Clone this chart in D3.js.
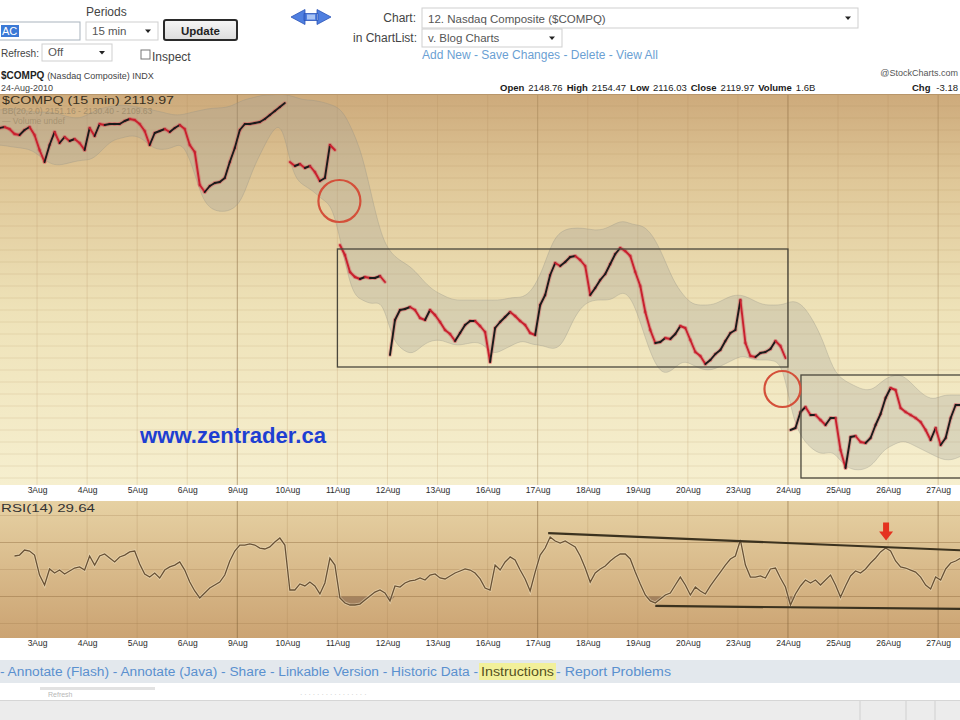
<!DOCTYPE html>
<html><head><meta charset="utf-8">
<script src="https://cdn.jsdelivr.net/npm/d3@7"></script>
<style>html,body{margin:0;padding:0;background:#fff;overflow:hidden}svg{display:block;font-family:"Liberation Sans",Arial,sans-serif}</style>
</head><body><svg id="c" width="960" height="720"></svg>
<script>
// ---------------- DATA ----------------
const dayLabels = ["3Aug","4Aug","5Aug","6Aug","9Aug","10Aug","11Aug","12Aug","13Aug","16Aug","17Aug","18Aug","19Aug","20Aug","23Aug","24Aug","25Aug","26Aug","27Aug"];
const strongDays = ["9Aug","17Aug","24Aug","27Aug"];
// 15-min closes sampled 10 per session, starting 2Aug
const closes = [
2288,2286,2287,2287.5,2286.5,2284,2283.5,2286,2287.5,2283.5,
2276,2270,2278.5,2285,2279.5,2282.5,2280.5,2281.5,2279.5,2276,
2287,2283,2289,2288.5,2289,2289,2289,2290.5,2291.5,2291,
2289,2285.5,2278.5,2284.5,2285.5,2286.5,2285,2287,2288.5,2286.5,
2278.5,2275,2258.5,2255,2258,2259.5,2260,2262,2270,2277,
2286,2289,2289,2289.5,2290,2291.5,2293.5,2295.5,2297.5,2299.5,
2270,2268,2269,2267,2268,2265,2260.5,2262,2278.5,2276,
2228.5,2223.5,2215,2212.5,2211.5,2212.5,2212,2212,2213,2210,
2173.5,2191,2196,2196.5,2197.5,2196,2192,2191,2196,2193.5,
2190,2186,2184,2180.5,2184.5,2188.5,2190.5,2190.5,2188,2185,
2170,2187,2190,2192.5,2195,2193,2190.5,2188.5,2184.5,2183.5,
2198.5,2203.5,2213.5,2219.5,2218,2220,2222.5,2223,2221,2218,
2203.5,2207,2211,2214,2219,2224,2227,2225.5,2223,2215,
2208,2195,2186,2179.5,2180,2182,2181.5,2184,2188,2187,
2181,2175,2173,2169,2171,2174,2176,2180.5,2184.5,2186,
2201,2179.5,2173,2172.5,2174.5,2175,2176.5,2180.5,2178,2172,
2136,2137,2145,2147.5,2143.5,2143.5,2141,2138.5,2142,2142,
2126,2117,2132.5,2133,2130,2129.5,2132,2138.5,2144,2152,
2157,2156,2147,2145,2143.5,2142,2140,2136,2131,2137,
2128.5,2132,2142,2148.5,2148.5];
// Bollinger band edges, one value every 2 bars
const bbUpper = [
2296,2296,2297,2296,2295,2295,2295,2293.5,2292,2292,
2295,2297,2298,2298.5,2298,2297,2296,2295,2293.5,2293.5,
2295,2296,2297,2297,2298,2301,2302,2303.5,2303.5,2304,
2303,2301,2301,2300,2298.5,2296,2286,2273.5,2251,2231,
2223.5,2220,2217,2211,2206,2203.5,2201,2201,2201,2201,
2201,2201,2202.5,2202,2206,2216,2231,2236,2237,2237,
2236,2236,2238.5,2241,2238.5,2238.5,2233.5,2223.5,2211,2203.5,
2198.5,2198.5,2198.5,2201,2203.5,2203.5,2201,2198.5,2198.5,2198.5,
2201,2198.5,2191,2181,2166,2161,2158.5,2156,2156,2161,
2163.5,2163.5,2158.5,2153.5,2151,2153.5,2153.5,2153.5];
const bbLower = [
2278.5,2278.5,2277.5,2277,2276,2272,2268.5,2268.5,2270,2271,
2271,2276,2281,2282,2283.5,2282,2277,2276,2277,2280,
2268.5,2251,2246,2245,2246,2251,2266,2276,2286,2290,
2263.5,2258.5,2256,2251,2248.5,2226,2203.5,2201,2198.5,2201,
2181,2176,2173.5,2178.5,2181,2181,2178.5,2178.5,2180,2179.5,
2173.5,2176,2178.5,2181,2178.5,2178.5,2176,2178.5,2191,2198.5,
2201,2201,2201,2206,2201,2186,2171,2163.5,2166,2171,
2168.5,2166,2166,2168.5,2171,2173.5,2171,2171,2171,2168.5,
2141,2131,2126,2123.5,2126,2118.5,2116,2116,2118.5,2126,
2128.5,2131,2128.5,2126,2123.5,2121,2121,2123.5];
// RSI(14), starting at bar 5
const rsiStart = 5;
const rsiValues = [
60.0,60.7,64.4,63.7,60.7,45.9,38.5,50.4,47.4,49.6,
46.7,48.9,51.1,51.9,49.6,60.0,53.3,60.0,61.5,58.5,
55.6,59.3,60.7,63.0,63.7,54.1,46.7,44.4,47.4,43.7,
49.6,51.9,53.3,55.6,49.6,40.7,34.1,28.9,32.6,36.3,
38.5,40.7,45.9,56.3,63.7,68.1,68.1,68.9,68.1,65.9,
65.2,66.7,70.4,73.3,68.1,34.8,34.8,39.3,37.8,40.7,
37.8,31.9,40.0,58.5,53.3,28.9,25.2,23.7,23.7,24.4,
27.4,30.4,33.3,34.8,32.6,26.7,37.8,37.0,40.0,41.5,
42.2,43.7,42.2,45.9,46.7,43.7,43.0,45.2,47.4,48.9,
50.4,49.6,47.4,43.0,36.3,34.8,53.3,49.6,55.6,59.3,
57.0,49.6,43.0,34.1,48.1,60.7,65.9,74.1,71.1,69.6,
71.1,68.9,66.7,60.0,51.1,40.7,47.4,50.4,52.6,56.3,
59.3,61.5,61.5,57.8,48.1,39.3,31.1,26.7,25.2,28.1,
31.1,32.6,38.5,44.4,38.5,31.1,37.0,34.1,31.9,37.8,
43.0,48.1,53.3,57.8,60.0,71.9,53.3,44.4,44.4,45.2,
43.7,50.4,51.1,43.7,37.0,23.7,31.9,37.8,42.2,40.0,
42.2,38.5,42.2,45.9,38.5,29.6,37.8,45.2,48.9,47.4,
50.4,54.8,58.5,63.0,65.9,63.7,56.3,51.9,51.1,49.6,
48.1,44.4,38.5,35.6,44.4,42.2,50.4,54.8,56.3,58.5];
// chart annotations in data units
const boxes = [{b0:70, b1:160, hi:2226.5, lo:2167.5},{b0:162.6, b1:205, hi:2163.5, lo:2112}];
const circles = [{bar:70.4, price:2250.5},{bar:158.9, price:2156.5}];
const rsiTrendLines = [{b0:112.1, v0:77.0, b1:196, v1:64.0},{b0:133.5, v0:23.0, b1:196, v1:20.7}];
const rsiArrow = {bar:179.6, rsi:71.5};
const quote = [["Open",true],["2148.76",false],["High",true],["2154.47",false],["Low",true],["2116.03",false],["Close",true],["2119.97",false],["Volume",true],["1.6B",false]];
const links1 = "- Annotate (Flash) - Annotate (Java) - Share - Linkable Version - Historic Data - ";
const links2 = "Instructions";
const links3 = " - Report Problems";

// ---------------- DRAW ----------------
const svg = d3.select("#c");
const defs = svg.append("defs");
function lg(id, stops){const g=defs.append("linearGradient").attr("id",id).attr("x1",0).attr("y1",0).attr("x2",0).attr("y2",1);stops.forEach(([o,c])=>g.append("stop").attr("offset",o).attr("stop-color",c));}
lg("pg",[[0,"#cdaa7b"],[0.22,"#dfc798"],[0.55,"#eee2b8"],[1,"#f6efcf"]]);
lg("rg",[[0,"#e6d1a3"],[1,"#cba372"]]);
lg("btn",[[0,"#f6f6f6"],[1,"#dcdcdc"]]);

const P = {top:94, bottom:485}, R = {top:501, bottom:638};
const x = d3.scaleLinear().domain([0,200]).range([-13, -13 + 50.06*20]);
const yP = d3.scaleLinear().domain([2110,2300]).range([482,102]);
const yR = d3.scaleLinear().domain([0,100]).range([637,502]);

defs.append("clipPath").attr("id","cp").append("rect").attr("x",0).attr("y",P.top).attr("width",960).attr("height",P.bottom-P.top);
defs.append("clipPath").attr("id","cr").append("rect").attr("x",0).attr("y",R.top).attr("width",960).attr("height",R.bottom-R.top);

function txt(g,xx,yy,s,o={}){const t=g.append("text").attr("x",xx).attr("y",yy).text(s).attr("font-size",o.size||11).attr("fill",o.fill||"#222");
 if(o.bold)t.attr("font-weight","bold"); if(o.anchor)t.attr("text-anchor",o.anchor);
 if(o.len)t.attr("textLength",o.len).attr("lengthAdjust","spacingAndGlyphs"); if(o.op!=null)t.attr("opacity",o.op); return t;}

// ----- top form -----
const topG = svg.append("g");
function selectBox(x0,y0,w,h,label){
 topG.append("rect").attr("x",x0).attr("y",y0).attr("width",w).attr("height",h).attr("fill","#fff").attr("stroke","#cfcfcf");
 txt(topG,x0+6,y0+h-5,label,{size:11.5,fill:"#555"});
 const ax=x0+w-10, ay=y0+h/2;
 topG.append("path").attr("d",`M${ax-3},${ay-1.5}L${ax+3},${ay-1.5}L${ax},${ay+2}Z`).attr("fill","#222");
}
topG.append("rect").attr("x",-2).attr("y",22).attr("width",82).attr("height",18).attr("fill","#fff").attr("stroke","#a9b3bd");
topG.append("rect").attr("x",1).attr("y",25).attr("width",18).attr("height",12).attr("fill","#3b79d6");
txt(topG,2,35,"AC",{size:11,fill:"#fff"});
txt(topG,86,16,"Periods",{size:12,fill:"#444"});
selectBox(86,22,72,18,"15 min");
topG.append("rect").attr("x",164).attr("y",20).attr("width",73).attr("height",20).attr("rx",2).attr("fill","url(#btn)").attr("stroke","#2a2a2a").attr("stroke-width",2);
txt(topG,200.5,34.5,"Update",{size:11.5,bold:true,anchor:"middle",fill:"#222"});
txt(topG,1,57,"Refresh:",{size:11,fill:"#444",len:38});
selectBox(42,44,70,17,"Off");
topG.append("rect").attr("x",141).attr("y",50).attr("width",9).attr("height",9).attr("fill","#fff").attr("stroke","#777");
txt(topG,152,61,"Inspect",{size:12,fill:"#444"});
topG.append("path").attr("d","M291,17L305,9.5L305,24.5Z M331,17L317,9.5L317,24.5Z M304,13.5H318V20.5H304Z").attr("fill","#4f7fe0").attr("stroke","#2c54b8").attr("stroke-width",0.8);
topG.append("path").attr("d","M307,14.5H315V19.5H307Z").attr("fill","#a9c3f4");
txt(topG,416,22,"Chart:",{size:12,fill:"#444",anchor:"end"});
selectBox(422,8,436,20,"12. Nasdaq Composite ($COMPQ)");
txt(topG,417,42,"in ChartList:",{size:12,fill:"#444",anchor:"end"});
selectBox(422,29,140,18,"v. Blog Charts");
txt(topG,422,59,"Add New - Save Changes - Delete - View All",{size:12,fill:"#6b9fd3"});
// header line
const h1 = topG.append("text").attr("x",1).attr("y",79).attr("font-size",10).attr("fill","#222");
h1.append("tspan").attr("font-weight","bold").text("$COMPQ ");
h1.append("tspan").attr("font-size",9).attr("fill","#444").text("(Nasdaq Composite) INDX");
txt(topG,1,91,"24-Aug-2010",{size:9,fill:"#444"});
txt(topG,958,76,"@StockCharts.com",{size:9,fill:"#555",anchor:"end"});
{ let cx=500; const hq=topG.append("g");
  quote.forEach(([s,b])=>{const t=txt(hq,cx,91,s,{size:9.5,bold:b,fill:"#1a1a1a"}); cx+=t.node().getComputedTextLength()+4;});
  txt(hq,912,91,"Chg",{size:9.5,bold:true,fill:"#1a1a1a"}); txt(hq,958,91,"-3.18",{size:9.5,fill:"#1a1a1a",anchor:"end"});
}

// ----- price panel -----
const pp = svg.append("g");
pp.append("rect").attr("x",0).attr("y",P.top).attr("width",960).attr("height",P.bottom-P.top).attr("fill","url(#pg)");
const pg = pp.append("g").attr("clip-path","url(#cp)");
pg.selectAll("line.h").data(d3.range(2112,2304,6)).join("line").attr("x1",0).attr("x2",960)
 .attr("y1",d=>yP(d)).attr("y2",d=>yP(d)).attr("stroke","#a57c48").attr("stroke-opacity",0.16);
pg.selectAll("line.v").data(dayLabels).join("line").attr("x1",(d,i)=>x(10*(i+1))).attr("x2",(d,i)=>x(10*(i+1)))
 .attr("y1",P.top).attr("y2",P.bottom).attr("stroke",d=>strongDays.includes(d)?"#8a6a40":"#b08a5a")
 .attr("stroke-opacity",d=>d==="9Aug"||d==="24Aug"?0.55:(strongDays.includes(d)?0.35:0.22));
// Bollinger band
const band = bbUpper.map((u,i)=>({u,l:bbLower[i],b:1+2*i}));
pg.append("path").datum(band).attr("d",d3.area().x(d=>x(d.b)).y0(d=>yP(d.l)).y1(d=>yP(d.u)).curve(d3.curveBasis))
 .attr("fill","#a3a39b").attr("fill-opacity",0.3).attr("stroke","#8f8e84").attr("stroke-opacity",0.3).attr("stroke-width",1);
// price
const pts = closes.map((c,i)=>({c,b:i+0.5}));
const segs=[];
for(let i=1;i<pts.length;i++){ if(i%10===0 && Math.abs(closes[i]-closes[i-1])>20) continue; segs.push([pts[i-1],pts[i]]); }
pg.selectAll("line.halo").data(segs).join("line").attr("x1",d=>x(d[0].b)).attr("y1",d=>yP(d[0].c)).attr("x2",d=>x(d[1].b)).attr("y2",d=>yP(d[1].c))
 .attr("stroke","#d84a56").attr("stroke-opacity",0.35).attr("stroke-width",4).attr("stroke-linecap","round");
pg.selectAll("line.px").data(segs).join("line").attr("x1",d=>x(d[0].b)).attr("y1",d=>yP(d[0].c)).attr("x2",d=>x(d[1].b)).attr("y2",d=>yP(d[1].c))
 .attr("stroke",d=>d[1].c>=d[0].c?"#1b1b1b":"#c8202e").attr("stroke-width",1.9).attr("stroke-linecap","round");
// annotations
pg.selectAll("rect.box").data(boxes).join("rect").attr("x",d=>x(d.b0)).attr("y",d=>yP(d.hi)).attr("width",d=>x(d.b1)-x(d.b0)).attr("height",d=>yP(d.lo)-yP(d.hi))
 .attr("fill","none").attr("stroke","#4a473c").attr("stroke-width",1.3);
pg.selectAll("circle.an").data(circles).join("circle").attr("cx",d=>x(d.bar)).attr("cy",d=>yP(d.price)).attr("r",(d,i)=>i?18:21)
 .attr("fill","none").attr("stroke","#d4503a").attr("stroke-width",2.2);
// legend text
txt(pp,2,104,"$COMPQ (15 min) 2119.97",{size:10,fill:"#3a3020",len:172});
txt(pp,2,114,"BB(20,2.0) 2151.16 - 2130.40 - 2109.63",{size:8.5,fill:"#9a8868",op:0.8});
txt(pp,2,124,"— Volume undef",{size:8.5,fill:"#9a8868",op:0.7});
txt(pp,140,443,"www.zentrader.ca",{size:22,bold:true,fill:"#1e3fd2",len:186});
pp.append("line").attr("x1",0).attr("x2",960).attr("y1",P.top+0.5).attr("y2",P.top+0.5).attr("stroke","#b8966a");

// ----- axis strips -----
function axisStrip(y0,h){
 svg.append("rect").attr("x",0).attr("y",y0).attr("width",960).attr("height",h).attr("fill","#fff");
 const g = svg.append("g").attr("transform",`translate(0,${y0})`)
  .call(d3.axisBottom(x).tickValues(d3.range(10,200,10)).tickFormat((d,i)=>dayLabels[i]).tickSize(0).tickPadding(2));
 g.select(".domain").remove();
 g.selectAll("text").attr("font-size",8.5).attr("fill","#2a2a2a").attr("font-family","Liberation Sans, Arial, sans-serif");
}
axisStrip(P.bottom,16);

// ----- RSI panel -----
const rp = svg.append("g");
rp.append("rect").attr("x",0).attr("y",R.top).attr("width",960).attr("height",R.bottom-R.top).attr("fill","url(#rg)");
const rg = rp.append("g").attr("clip-path","url(#cr)");
rg.selectAll("line.h").data([10,30,50,70,90]).join("line").attr("x1",0).attr("x2",960).attr("y1",d=>yR(d)).attr("y2",d=>yR(d))
 .attr("stroke","#8a6438").attr("stroke-opacity",d=>(d===30||d===70)?0.4:0.2);
rg.selectAll("line.v").data(dayLabels).join("line").attr("x1",(d,i)=>x(10*(i+1))).attr("x2",(d,i)=>x(10*(i+1)))
 .attr("y1",R.top).attr("y2",R.bottom).attr("stroke",d=>strongDays.includes(d)?"#7a5a30":"#a07c4c")
 .attr("stroke-opacity",d=>strongDays.includes(d)?0.5:0.22);
const rpts = rsiValues.map((v,i)=>({v,b:rsiStart+i+0.5}));
rg.append("path").datum(rpts).attr("d",d3.area().x(d=>x(d.b)).y0(yR(30)).y1(d=>yR(Math.min(d.v,30))))
 .attr("fill","#86644a").attr("fill-opacity",0.6);
rg.append("path").datum(rpts).attr("d",d3.line().x(d=>x(d.b)).y(d=>yR(d.v)))
 .attr("fill","none").attr("stroke","#f2e6c8").attr("stroke-opacity",0.5).attr("stroke-width",3);
rg.append("path").datum(rpts).attr("d",d3.line().x(d=>x(d.b)).y(d=>yR(d.v)))
 .attr("fill","none").attr("stroke","#6a5235").attr("stroke-width",1.3);
rg.selectAll("line.tl").data(rsiTrendLines).join("line").attr("x1",d=>x(d.b0)).attr("y1",d=>yR(d.v0)).attr("x2",d=>x(d.b1)).attr("y2",d=>yR(d.v1))
 .attr("stroke","#3b321f").attr("stroke-width",2.2);
{ const ax=x(rsiArrow.bar), ay=yR(rsiArrow.rsi);
  rg.append("path").attr("d",`M${ax-3},${ay-18}L${ax+3},${ay-18}L${ax+3},${ay-9}L${ax+7},${ay-9}L${ax},${ay}L${ax-7},${ay-9}L${ax-3},${ay-9}Z`).attr("fill","#e5321f"); }
txt(rp,1,512,"RSI(14) 29.64",{size:10,fill:"#333",len:94});
axisStrip(R.bottom,18);

// ----- bottom link bar -----
svg.append("rect").attr("x",0).attr("y",660).attr("width",960).attr("height",23).attr("fill","#e3e8ed");
{ txt(svg,0,676,links1,{size:12,fill:"#5a90cf",len:478});
  svg.append("rect").attr("x",479).attr("y",663).attr("width",77).attr("height",17).attr("fill","#f2f09a");
  txt(svg,481,676,links2,{size:12,fill:"#55501e",len:73});
  txt(svg,556,676,links3,{size:12,fill:"#5a90cf",len:115}); }
svg.append("rect").attr("x",40).attr("y",687).attr("width",115).attr("height",3).attr("fill","#e2e2e2");
txt(svg,48,697,"Refresh",{size:7,fill:"#999",op:0.7});
txt(svg,300,697,"·  ·  ·  ·  ·  ·  ·  ·  ·  ·  ·  ·  ·  ·  ·  ·",{size:7,fill:"#999",op:0.6});
svg.append("rect").attr("x",0).attr("y",700).attr("width",960).attr("height",20).attr("fill","#ececec");
svg.append("line").attr("x1",0).attr("x2",960).attr("y1",700.5).attr("y2",700.5).attr("stroke","#d6d6d6");
[860,906,935].forEach(v=>svg.append("line").attr("x1",v).attr("x2",v).attr("y1",701).attr("y2",720).attr("stroke","#d0d0d0"));
</script></body></html>
